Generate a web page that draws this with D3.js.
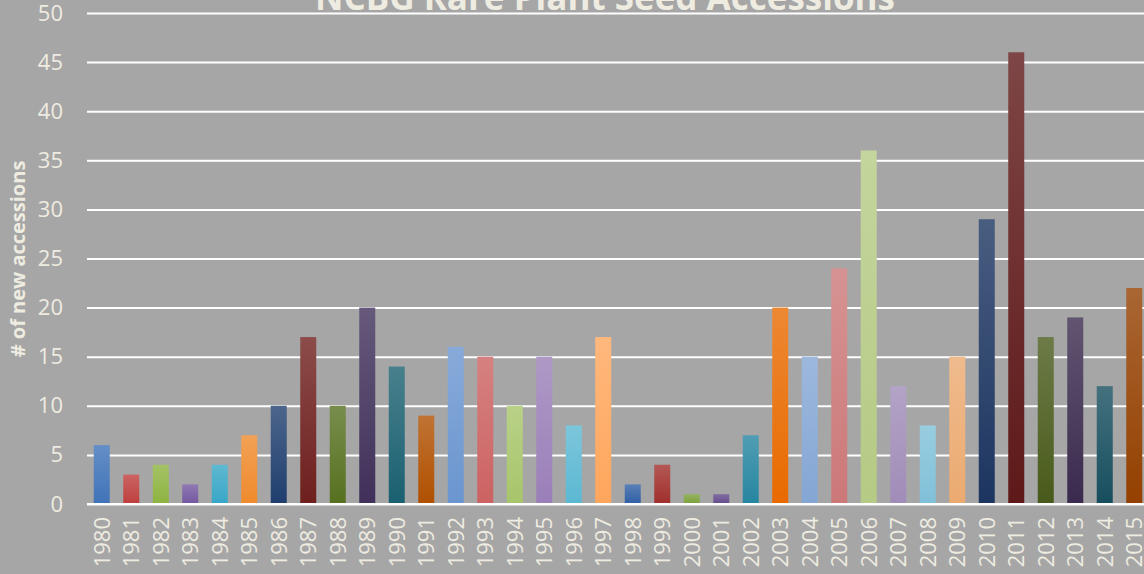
<!DOCTYPE html>
<html>
<head>
<meta charset="utf-8">
<script src="https://cdn.jsdelivr.net/npm/d3@7"></script>
<style>
  body { margin: 0; background: #a6a6a6; overflow: hidden; }
  svg { display: block; }
</style>
</head>
<body>
<script>
var years = ["1980","1981","1982","1983","1984","1985","1986","1987","1988","1989",
             "1990","1991","1992","1993","1994","1995","1996","1997","1998","1999",
             "2000","2001","2002","2003","2004","2005","2006","2007","2008","2009",
             "2010","2011","2012","2013","2014","2015"];
var accessions = [6, 3, 4, 2, 4, 7, 10, 17, 10, 20,
                  14, 9, 16, 15, 10, 15, 8, 17, 2, 4,
                  1, 1, 7, 20, 15, 24, 36, 12, 8, 15,
                  29, 46, 17, 19, 12, 22];
var yTicks = [0, 5, 10, 15, 20, 25, 30, 35, 40, 45, 50];

// bar colours (bottom of each gradient), Excel "vary colours by point"
var palette = ["#3f73b8","#be3e3c","#8db340","#7357a0","#37a6c6","#ef8a2c",
               "#1f3e6e","#6e1f1d","#56701f","#40305a","#1a6070","#b05000",
               "#6a95cf","#cc6262","#a7c56a","#9a7fb8","#5bb8d2","#ffa65c",
               "#2f5fa5","#a02e2b","#7aa03a","#634a8a","#2585a0","#e86a00",
               "#84a6d4","#cc7878","#b5ca84","#a08cb8","#80c0d8","#ebaa70",
               "#1c3560","#5e1818","#485a1a","#3a2a4e","#164e5e","#944000"];

var width = 1144;
var height = 574;
var textColor = "#eeece1";
var font = "'Open Sans', 'Liberation Sans', sans-serif";

var svg = d3.select("body").append("svg")
            .attr("width", width)
            .attr("height", height);

var xScale = d3.scaleBand()
               .domain(years)
               .range([87, 1149])
               .paddingInner(0.457)
               .paddingOuter(0.2285);
var yScale = d3.scaleLinear()
               .domain([0, 50])
               .range([504, 13]);

// gradients
var defs = svg.append("defs");
var grads = defs.selectAll("linearGradient")
    .data(years)
    .enter()
    .append("linearGradient")
    .attr("id", function(d, i) { return "g" + i; })
    .attr("x1", 0).attr("y1", 0).attr("x2", 0).attr("y2", 1);
grads.append("stop").attr("offset", "0%")
    .attr("stop-color", function(d, i) { return d3.interpolateRgb(palette[i], "#ffffff")(0.2); });
grads.append("stop").attr("offset", "100%")
    .attr("stop-color", function(d, i) { return palette[i]; });

// gridlines + y labels
var yAxis = d3.axisLeft(yScale)
              .tickValues(yTicks)
              .tickSize(-(1149 - 87))
              .tickPadding(24);
var gy = svg.append("g")
   .attr("transform", "translate(87,0)")
   .call(yAxis);
gy.select(".domain").remove();
gy.selectAll(".tick line").attr("stroke", "#ffffff").attr("stroke-width", 2);
gy.selectAll(".tick text")
  .attr("fill", textColor)
  .style("font-family", font)
  .style("font-size", "22px");

// bars
svg.append("g").selectAll("rect")
   .data(accessions)
   .enter()
   .append("rect")
   .attr("x", function(d, i) { return xScale(years[i]); })
   .attr("y", function(d) { return yScale(d); })
   .attr("width", xScale.bandwidth())
   .attr("height", function(d) { return yScale(0) - yScale(d); })
   .attr("fill", function(d, i) { return "url(#g" + i + ")"; });

// zero line on top
svg.append("line")
   .attr("x1", 87).attr("x2", 1149)
   .attr("y1", yScale(0)).attr("y2", yScale(0))
   .attr("stroke", "#ffffff").attr("stroke-width", 2);

// x labels
svg.append("g").selectAll("text")
   .data(years)
   .enter()
   .append("text")
   .attr("transform", function(d) {
        return "translate(" + (xScale(d) + xScale.bandwidth() / 2 + 8) + ",517) rotate(-90)";
    })
   .attr("text-anchor", "end")
   .attr("fill", textColor)
   .style("font-family", font)
   .style("font-size", "22px")
   .text(function(d) { return d; });

// axis title
svg.append("text")
   .attr("transform", "translate(25,259) rotate(-90)")
   .attr("text-anchor", "middle")
   .attr("fill", textColor)
   .style("font-family", font)
   .style("font-weight", "bold")
   .style("font-size", "20px")
   .text("# of new accessions");

// chart title (cut by the top edge)
svg.append("text")
   .attr("x", 605)
   .attr("y", 10)
   .attr("text-anchor", "middle")
   .attr("fill", textColor)
   .style("font-family", font)
   .style("font-weight", "bold")
   .style("font-size", "35px")
   .text("NCBG Rare Plant Seed Accessions");
</script>
</body>
</html>
